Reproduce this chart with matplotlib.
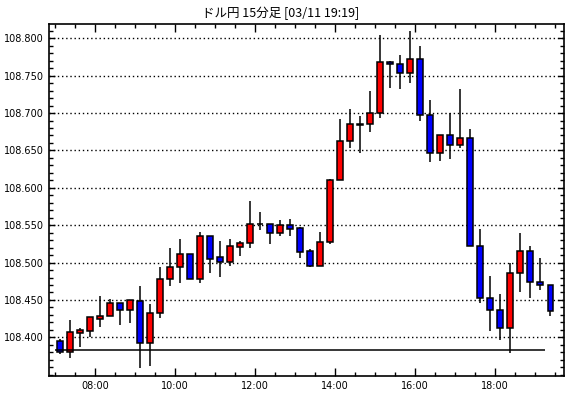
import numpy as np
import pandas as pd
import matplotlib
matplotlib.use('Agg')
import matplotlib.pyplot as plt
from matplotlib.ticker import MultipleLocator, FixedLocator

# Data (USD/JPY 15 min candles, 03/11)
start_time = '2020-03-11 07:00'
opens = [108.395, 108.380, 108.406, 108.409, 108.425, 108.429, 108.446, 108.437, 108.448, 108.392,
         108.433, 108.478, 108.494, 108.511, 108.478, 108.535, 108.507, 108.501, 108.521, 108.526,
         108.552, 108.552, 108.539, 108.550, 108.546, 108.515, 108.496, 108.528, 108.610, 108.663,
         108.684, 108.686, 108.700, 108.768, 108.765, 108.754, 108.772, 108.697, 108.646, 108.670,
         108.657, 108.666, 108.522, 108.453, 108.436, 108.412, 108.486, 108.516, 108.474, 108.470]
highs = [108.398, 108.423, 108.412, 108.427, 108.455, 108.451, 108.446, 108.450, 108.469, 108.445,
         108.494, 108.519, 108.532, 108.511, 108.541, 108.535, 108.529, 108.531, 108.529, 108.582,
         108.567, 108.552, 108.557, 108.558, 108.548, 108.518, 108.541, 108.612, 108.692, 108.705,
         108.696, 108.729, 108.804, 108.769, 108.777, 108.810, 108.790, 108.717, 108.670, 108.700,
         108.732, 108.678, 108.545, 108.482, 108.458, 108.500, 108.539, 108.522, 108.506, 108.470]
lows = [108.378, 108.372, 108.387, 108.400, 108.414, 108.429, 108.416, 108.419, 108.359, 108.362,
        108.426, 108.469, 108.473, 108.478, 108.473, 108.486, 108.481, 108.495, 108.509, 108.519,
        108.544, 108.525, 108.536, 108.535, 108.506, 108.494, 108.496, 108.525, 108.610, 108.653,
        108.647, 108.675, 108.694, 108.734, 108.732, 108.740, 108.690, 108.635, 108.636, 108.638,
        108.653, 108.522, 108.446, 108.408, 108.396, 108.379, 108.461, 108.453, 108.463, 108.429]
closes = [108.380, 108.407, 108.410, 108.427, 108.429, 108.446, 108.437, 108.450, 108.393, 108.433,
          108.478, 108.494, 108.511, 108.478, 108.535, 108.505, 108.501, 108.522, 108.526, 108.552,
          108.552, 108.539, 108.550, 108.545, 108.514, 108.496, 108.528, 108.610, 108.663, 108.685,
          108.685, 108.700, 108.768, 108.765, 108.754, 108.772, 108.697, 108.646, 108.670, 108.657,
          108.666, 108.522, 108.453, 108.436, 108.412, 108.486, 108.516, 108.474, 108.470, 108.435]
ref_price = 108.383
ytick_vals = [108.40, 108.45, 108.50, 108.55, 108.60, 108.65, 108.70, 108.75, 108.80]
xtick_hours = [8, 10, 12, 14, 16, 18]
xtick_labels = ['08:00', '10:00', '12:00', '14:00', '16:00', '18:00']
title = 'ドル円 15分足 [03/11 19:19]'

times = pd.date_range(start_time, periods=len(opens), freq='15min')
t0 = times.hour + times.minute / 60.0
step = 0.25
xc = t0 + step / 2

o = np.array(opens); h = np.array(highs); l = np.array(lows); c = np.array(closes)
colors = np.where(c >= o, '#ff0000', '#0000ff')

fig = plt.figure(figsize=(5.7, 3.98), dpi=100)
ax = fig.add_axes([0.0865, 0.056, 0.9030, 0.883])

ax.vlines(xc, l, h, color='black', linewidth=1.1, zorder=2)
ax.bar(xc, c - o, bottom=o, width=0.14, color=colors, edgecolor='black',
       linewidth=1.1, zorder=3)
ax.hlines(ref_price, t0[0], t0[-1], color='black', linewidth=1.1, zorder=4)

ax.set_xlim(6.8575, 19.7175)
ax.set_ylim(108.3487, 108.8187)

ax.yaxis.set_major_locator(FixedLocator(ytick_vals))
ax.yaxis.set_minor_locator(MultipleLocator(0.01))
ax.yaxis.set_major_formatter(plt.FuncFormatter(lambda v, p: '%.3f' % v))
ax.grid(axis='y', which='major', color='black', linestyle=(0, (1, 2)), linewidth=1)
ax.set_axisbelow(True)

ax.xaxis.set_major_locator(FixedLocator(xtick_hours))
ax.set_xticklabels(xtick_labels)
ax.xaxis.set_minor_locator(MultipleLocator(0.5))

ax.tick_params(which='both', direction='in', top=True, right=True, color='black',
               labelsize=7, pad=4)
ax.tick_params(axis='x', which='major', length=6, width=1)
ax.tick_params(axis='x', which='minor', length=3, width=1)
ax.tick_params(axis='y', which='major', length=4, width=1)
ax.tick_params(axis='y', which='minor', length=3, width=1)
for s in ax.spines.values():
    s.set_linewidth(1.2)
    s.set_color('black')

fig.text(281 / 570, 1 - 13 / 398, title, ha='center', va='center', fontsize=9,
         family=['Noto Sans CJK JP', 'DejaVu Sans'])

fig.savefig('out.png', dpi=100)
